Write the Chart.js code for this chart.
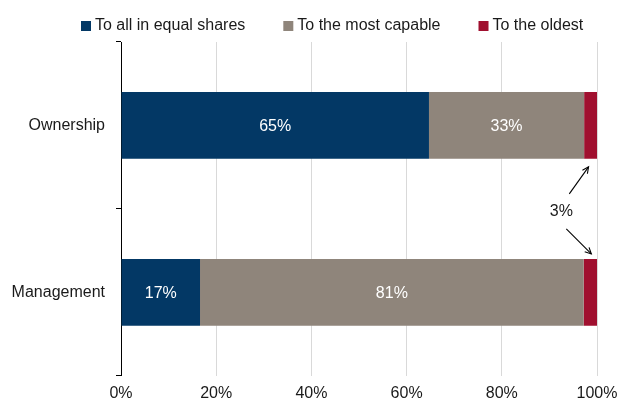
<!DOCTYPE html>
<html><head><meta charset="utf-8">
<script src="https://cdn.jsdelivr.net/npm/chart.js@4"></script>
<style>html,body{margin:0;padding:0;background:#fff}#wrap{width:619px;height:407px;position:relative}</style>
</head><body><div id="wrap"><canvas id="c" width="619" height="407"></canvas></div>
<script>
const categories = ['Ownership', 'Management'];
const seriesNames = ['To all in equal shares', 'To the most capable', 'To the oldest'];
const equalShares = [64.7, 16.6];
const mostCapable = [32.6, 80.6];
const oldest = [2.7, 2.8];
const xTickValues = [0, 20, 40, 60, 80, 100];
const annotationText = '3%';
const colors = ['#033865', '#8f857b', '#a0102f'];
const FONT = "'Liberation Sans', Arial, Helvetica, sans-serif";
const TEXT = '#1a1a1a';

const dataLabelPlugin = {
  id: 'segLabels',
  afterDatasetsDraw(chart) {
    const ctx = chart.ctx;
    ctx.save();
    ctx.font = '16px ' + FONT;
    ctx.fillStyle = '#ffffff';
    ctx.textAlign = 'center';
    ctx.textBaseline = 'middle';
    [0, 1].forEach(di => {
      const meta = chart.getDatasetMeta(di);
      meta.data.forEach((el, i) => {
        const v = chart.data.datasets[di].data[i];
        ctx.fillText(Math.round(v) + '%', (el.x + el.base) / 2, el.y + 1);
      });
    });
    ctx.restore();
  }
};

function arrow(ctx, x1, y1, x2, y2) {
  ctx.beginPath();
  ctx.moveTo(x1, y1); ctx.lineTo(x2, y2); ctx.stroke();
  const a = Math.atan2(y2 - y1, x2 - x1), h = 7, s = 0.45;
  ctx.beginPath();
  ctx.moveTo(x2 - h * Math.cos(a - s), y2 - h * Math.sin(a - s));
  ctx.lineTo(x2, y2);
  ctx.lineTo(x2 - h * Math.cos(a + s), y2 - h * Math.sin(a + s));
  ctx.stroke();
}

const annotationPlugin = {
  id: 'oldestNote',
  afterDatasetsDraw(chart) {
    const ctx = chart.ctx;
    const meta = chart.getDatasetMeta(2);
    const top = meta.data[0], bot = meta.data[1];
    const tb = top.getProps(['x', 'y', 'base', 'height'], true);
    const bb = bot.getProps(['x', 'y', 'base', 'height'], true);
    const topBottom = tb.y + tb.height / 2;
    const botTop = bb.y - bb.height / 2;
    const midY = (topBottom + botTop) / 2 + 3;
    const tx = chart.scales.x.getPixelForValue(92.5);
    ctx.save();
    ctx.font = '16px ' + FONT;
    ctx.fillStyle = TEXT;
    ctx.textAlign = 'center';
    ctx.textBaseline = 'middle';
    ctx.fillText(annotationText, tx, midY);
    ctx.strokeStyle = '#000';
    ctx.lineWidth = 1.1;
    arrow(ctx, tx + 8, midY - 18, (tb.x + tb.base) / 2 - 2, topBottom + 8);
    arrow(ctx, tx + 5, midY + 17, (bb.x + bb.base) / 2 + 1, botTop - 5);
    ctx.restore();
  }
};

const legendPlugin = {
  id: 'customLegend',
  afterDraw(chart) {
    const ctx = chart.ctx;
    ctx.save();
    ctx.font = '16px ' + FONT;
    ctx.textBaseline = 'middle';
    ctx.textAlign = 'left';
    let x = 81;
    const y = 26;
    chart.data.datasets.forEach(ds => {
      ctx.fillStyle = ds.backgroundColor;
      ctx.fillRect(x, y - 5, 10, 10);
      ctx.fillStyle = TEXT;
      ctx.fillText(ds.label, x + 14, y);
      x += 14 + ctx.measureText(ds.label).width + 38;
    });
    ctx.restore();
  }
};

new Chart(document.getElementById('c'), {
  type: 'bar',
  data: {
    labels: categories,
    datasets: [
      { label: seriesNames[0], data: equalShares, backgroundColor: colors[0] },
      { label: seriesNames[1], data: mostCapable, backgroundColor: colors[1] },
      { label: seriesNames[2], data: oldest, backgroundColor: colors[2] }
    ]
  },
  options: {
    indexAxis: 'y',
    responsive: false,
    devicePixelRatio: 1,
    animation: false,
    categoryPercentage: 1,
    barPercentage: 0.4,
    layout: { padding: { top: 42, right: 22, left: 0, bottom: 4 } },
    plugins: { legend: { display: false }, tooltip: { enabled: false } },
    scales: {
      x: {
        stacked: true, min: 0, max: 100,
        afterBuildTicks(scale) { scale.ticks = xTickValues.map(v => ({ value: v })); },
        afterFit(scale) { scale.height = scale.height - 8; scale.paddingRight = 0; scale.paddingLeft = 0; },
        ticks: { callback: v => v + '%', font: { size: 16, family: FONT }, color: TEXT, padding: 8 },
        grid: { color: '#d9d9d9', drawTicks: false, lineWidth: 1 },
        border: { display: false }
      },
      y: {
        stacked: true,
        afterFit(scale) { scale.width = 121; },
        ticks: { font: { size: 16, family: FONT }, color: TEXT, padding: 11 },
        grid: { offset: true, drawOnChartArea: false, tickLength: 5, color: '#000' },
        border: { display: true, color: '#000', width: 1 }
      }
    }
  },
  plugins: [dataLabelPlugin, annotationPlugin, legendPlugin]
});
</script>
</body></html>
